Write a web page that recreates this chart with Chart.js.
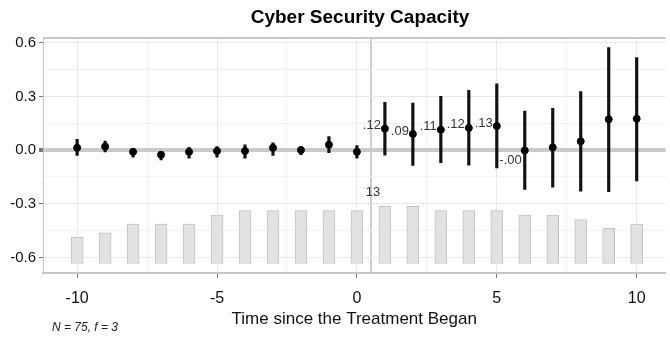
<!DOCTYPE html>
<html lang="en">
<head>
    <meta charset="UTF-8">
    <title>Cyber Security Capacity</title>
    <script src="https://cdn.jsdelivr.net/npm/chart.js"></script>
    <style>
        html, body { margin: 0; padding: 0; background: #fff; }
        #chart { display: block; }
    </style>
</head>
<body>
    <canvas id="chart" width="670" height="342"></canvas>

    <script>
        // Event-time periods and the estimates
        const periods   = [-10, -9, -8, -7, -6, -5, -4, -3, -2, -1, 0, 1, 2, 3, 4, 5, 6, 7, 8, 9, 10];
        const estimates = [0.013, 0.02, -0.01, -0.026, -0.01, -0.005, -0.005, 0.013, 0.0, 0.03, -0.01,
                           0.12, 0.09, 0.114, 0.124, 0.134, -0.002, 0.015, 0.049, 0.172, 0.175];
        const ciLow     = [-0.03, -0.01, -0.04, -0.055, -0.045, -0.04, -0.045, -0.03, -0.025, -0.015, -0.045,
                           -0.028, -0.086, -0.07, -0.084, -0.1, -0.22, -0.207, -0.229, -0.233, -0.173];
        const ciHigh    = [0.06, 0.05, 0.01, 0.0, 0.015, 0.02, 0.03, 0.04, 0.02, 0.075, 0.025,
                           0.267, 0.262, 0.30, 0.334, 0.37, 0.218, 0.233, 0.327, 0.573, 0.517];
        // number of treated units observed at each period (grey bars)
        const counts    = [6, 7, 9, 9, 9, 11, 12, 12, 12, 12, 12, 13, 13, 12, 12, 12, 11, 11, 10, 8, 9];
        const labelPeriods = [1, 2, 3, 4, 5, 6];

        const yTicks = [-0.6, -0.45, -0.3, -0.15, 0, 0.15, 0.3, 0.45, 0.6];
        const xTicks = [-10, -7.5, -5, -2.5, 0, 0.5, 2.5, 5, 7.5, 10];

        const FONT = "'Liberation Sans', Arial, sans-serif";

        function fmtEst(v) {
            return (v < 0 ? '-' : '') + Math.abs(v).toFixed(2).replace(/^0/, '');
        }

        const overlay = {
            id: 'overlay',
            beforeDatasetsDraw(chart) {
                const ctx = chart.ctx, a = chart.chartArea;
                ctx.save();
                ctx.strokeStyle = '#c6c6c6';
                ctx.lineWidth = 2;
                ctx.beginPath();
                ctx.moveTo(a.left, a.top + 1);
                ctx.lineTo(a.right, a.top + 1);
                ctx.stroke();
                ctx.restore();
            },
            afterDatasetsDraw(chart) {
                const ctx = chart.ctx;
                const x = chart.scales.x, y = chart.scales.y, y2 = chart.scales.y2;
                ctx.save();
                ctx.fillStyle = '#333';
                ctx.font = '13px ' + FONT;
                ctx.textBaseline = 'middle';
                ctx.textAlign = 'right';
                labelPeriods.forEach(p => {
                    const i = periods.indexOf(p);
                    const v = estimates[i];
                    const px = x.getPixelForValue(p);
                    const py = y.getPixelForValue(v);
                    if (v < 0) ctx.fillText(fmtEst(v), px - 3, py + 10);
                    else ctx.fillText(fmtEst(v), px - 4, py - 3);
                });
                const maxCount = Math.max(...counts);
                ctx.textAlign = 'center';
                ctx.font = '13px ' + FONT;
                ctx.fillText(String(maxCount), x.getPixelForValue(0.5) + 2, y2.getPixelForValue(maxCount) - 14);
                ctx.restore();
            },
            afterDraw(chart) {
                const ctx = chart.ctx;
                ctx.save();
                ctx.fillStyle = '#000';
                ctx.font = 'bold 19px ' + FONT;
                ctx.textAlign = 'center';
                ctx.textBaseline = 'alphabetic';
                ctx.fillText('Cyber Security Capacity', 360, 23);
                ctx.fillStyle = '#222';
                ctx.font = 'italic 12px ' + FONT;
                ctx.textAlign = 'left';
                ctx.textBaseline = 'middle';
                ctx.fillText('N = 75, f = 3', 52, 328);
                ctx.restore();
            }
        };

        const ctx = document.getElementById('chart').getContext('2d');
        new Chart(ctx, {
            type: 'bar',
            data: {
                datasets: [
                    {
                        type: 'scatter',
                        label: 'Estimate',
                        data: periods.map((p, i) => ({ x: p, y: estimates[i] })),
                        backgroundColor: '#000',
                        borderColor: '#000',
                        pointRadius: 3.5,
                        pointHoverRadius: 3.5,
                        yAxisID: 'y',
                        order: 1
                    },
                    {
                        type: 'bar',
                        label: 'CI',
                        data: periods.map((p, i) => ({ x: p, y: [ciLow[i], ciHigh[i]] })),
                        backgroundColor: '#111',
                        borderWidth: 0,
                        barThickness: 2.5,
                        grouped: false,
                        yAxisID: 'y',
                        order: 2
                    },
                    {
                        type: 'bar',
                        label: 'Treated',
                        data: periods.map((p, i) => ({ x: p, y: counts[i] })),
                        backgroundColor: '#e2e2e2',
                        borderColor: '#c2c2c2',
                        borderWidth: 1,
                        barThickness: 12,
                        grouped: false,
                        yAxisID: 'y2',
                        order: 3
                    }
                ]
            },
            options: {
                responsive: false,
                animation: false,
                devicePixelRatio: 1,
                layout: { padding: { top: 37, left: 0, right: 0, bottom: 0 } },
                plugins: {
                    legend: { display: false },
                    tooltip: { enabled: false },
                    title: { display: false }
                },
                scales: {
                    x: {
                        type: 'linear',
                        min: -11.22,
                        max: 11.03,
                        offset: false,
                        afterBuildTicks: s => { s.ticks = xTicks.map(v => ({ value: v })); },
                        afterFit: s => { s.height = 69; },
                        grid: {
                            offset: false,
                            tickLength: 5,
                            color: c => c.tick && c.tick.value === 0.5 ? '#cdcdcd'
                                : (c.tick && c.tick.value % 5 === 0 ? '#e8e8e8' : '#f1f1f1'),
                            lineWidth: c => c.tick && c.tick.value === 0.5 ? 2 : 1,
                            tickColor: c => c.tick && c.tick.value % 5 === 0 ? '#777' : 'rgba(0,0,0,0)'
                        },
                        border: { display: true, color: '#c6c6c6', width: 2 },
                        ticks: {
                            autoSkip: false,
                            maxRotation: 0,
                            padding: 11,
                            color: '#111',
                            font: { family: FONT, size: 16 },
                            callback: v => (v % 5 === 0 ? String(v) : '')
                        },
                        title: {
                            display: true,
                            text: 'Time since the Treatment Began',
                            color: '#111',
                            font: { family: FONT, size: 17 },
                            padding: { top: 0, bottom: 12 }
                        }
                    },
                    y: {
                        position: 'left',
                        min: -0.687,
                        max: 0.632,
                        afterBuildTicks: s => { s.ticks = yTicks.map(v => ({ value: v })); },
                        afterFit: s => { s.width = 43; },
                        grid: {
                            tickLength: 4,
                            color: c => {
                                if (!c.tick) return '#e8e8e8';
                                const v = Math.round(c.tick.value * 100);
                                if (v === 0) return '#cacaca';
                                return v % 30 === 0 ? '#e8e8e8' : '#f1f1f1';
                            },
                            lineWidth: c => c.tick && Math.round(c.tick.value * 100) === 0 ? 4 : 1,
                            tickColor: c => c.tick && Math.round(c.tick.value * 100) % 30 === 0 ? '#777' : 'rgba(0,0,0,0)'
                        },
                        border: { display: true, color: '#c6c6c6', width: 1 },
                        ticks: {
                            padding: 3,
                            color: '#111',
                            font: { family: FONT, size: 15 },
                            callback: v => {
                                const r = Math.round(v * 100);
                                if (r % 30 !== 0) return '';
                                return r === 0 ? '0.0' : v.toFixed(1);
                            }
                        }
                    },
                    y2: {
                        display: false,
                        min: -2.03,
                        max: 51.08
                    }
                }
            },
            plugins: [overlay]
        });
    </script>
</body>
</html>
